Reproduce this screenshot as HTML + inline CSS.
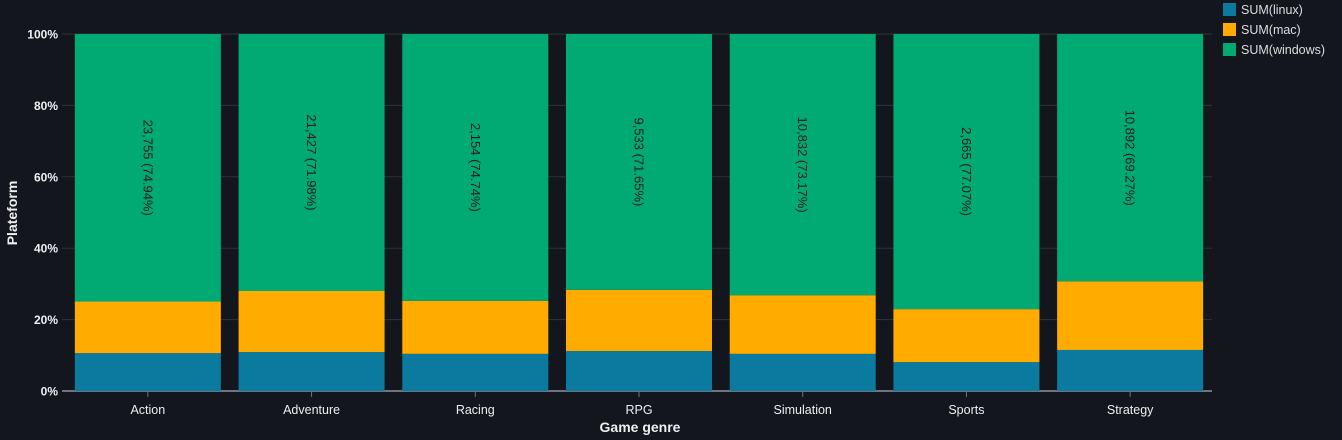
<!DOCTYPE html>
<html><head><meta charset="utf-8"><style>
html,body{margin:0;padding:0;background:#13161d;}
svg{display:block;font-family:"Liberation Sans",sans-serif;}
</style></head><body>
<svg id="chart" width="1342" height="440">
<rect width="1342" height="440" fill="#13161d"/>
<g id="grid"></g><g id="bars"></g><g id="axes"></g>
<text x="640" y="432" fill="#eeeeee" font-size="14" font-weight="bold" text-anchor="middle">Game genre</text>
<text transform="translate(17,213) rotate(-90)" fill="#eeeeee" font-size="14" font-weight="bold" text-anchor="middle">Plateform</text>
<g>
<g><rect x="1223" y="3" width="13" height="13" fill="#0b7a9f"/><text x="1241" y="14" fill="#dddddd" font-size="12.5">SUM(linux)</text></g>
<g><rect x="1223" y="23" width="13" height="13" fill="#ffab00"/><text x="1241" y="34" fill="#dddddd" font-size="12.5">SUM(mac)</text></g>
<g><rect x="1223" y="43" width="13" height="13" fill="#00aa72"/><text x="1241" y="54" fill="#dddddd" font-size="12.5">SUM(windows)</text></g>
</g>
</svg>
<script>
const categories=["Action","Adventure","Racing","RPG","Simulation","Sports","Strategy"];
const linux=[3360,3245,300,1490,1540,280,1808];
const mac=[4584,5096,428,2282,2432,513,3024];
const windows=[23755,21427,2154,9533,10832,2665,10892];
const yTicks=[0,20,40,60,80,100];
const NS="http://www.w3.org/2000/svg";
const X0=66,X1=1212,Y0=391,Y1=34;
const band=(X1-X0)/categories.length, bw=146;
const y=p=>Y0-(Y0-Y1)*p/100;
const xc=i=>X0+band*(i+0.5);
function mk(t,a,p){const e=document.createElementNS(NS,t);for(const k in a)e.setAttribute(k,a[k]);p.appendChild(e);return e;}
const grid=document.getElementById('grid'),bars=document.getElementById('bars'),axes=document.getElementById('axes');
yTicks.forEach(t=>{
 const l=mk('line',{x1:62,x2:X1,y1:y(t),y2:y(t),stroke:t===0?'#6c7480':'#2e333c','stroke-width':t===0?2:1},grid);
 
 
 const tx=mk('text',{x:58,y:y(t)+4.5,fill:'#eeeeee','font-size':12,'font-weight':'bold','text-anchor':'end'},axes);
 tx.textContent=t+'%';
 
 
});
const fmt=n=>n.toLocaleString('en-US');
categories.forEach((c,i)=>{
 const tot=linux[i]+mac[i]+windows[i];
 const pl=linux[i]/tot*100, pm=mac[i]/tot*100, pw=windows[i]/tot*100;
 const x=xc(i)-bw/2;
 const segs=[[0,pl,'#0b7a9f','linux'],[pl,pl+pm,'#ffab00','mac'],[pl+pm,100,'#00aa72','windows']];
 segs.forEach(s=>{
  const r=mk('rect',{x:x,y:y(s[1]),width:bw,height:y(s[0])-y(s[1]),fill:s[2]},bars);
  
  
 });
 const cy=(y(pl+pm)+y(100))/2;
 const lb=mk('text',{x:0,y:0,fill:'#1a1a1a','font-size':13,'text-anchor':'middle','dominant-baseline':'central',transform:`translate(${xc(i)},${cy}) rotate(90)`},bars);
 lb.textContent=fmt(windows[i])+' ('+pw.toFixed(2).replace(/0$/,'')+'%)';
 
 
 mk('line',{x1:xc(i),x2:xc(i),y1:392,y2:397,stroke:'#6c7480'},axes);
 const xt=mk('text',{x:xc(i),y:414,fill:'#eeeeee','font-size':12.5,'text-anchor':'middle'},axes);
 xt.textContent=c;
 
 
});
</script>
</body></html>
